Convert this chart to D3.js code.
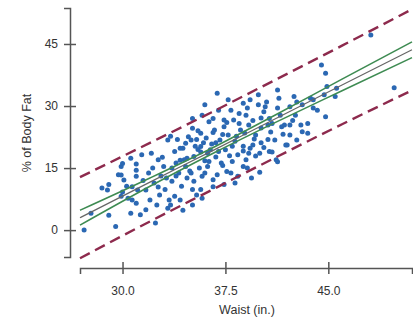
<!DOCTYPE html>
<html>
<head>
<meta charset="utf-8">
<script src="https://cdn.jsdelivr.net/npm/d3@7"></script>
<style>
  body { margin: 0; background: #fff; }
  svg { display: block; font-family: "Liberation Sans", Arial, sans-serif; }
</style>
</head>
<body>
<div id="chart"></div>
<script>
// waist (in.) and % body fat
const waist = [
  27.2, 27.7, 28.5, 29.0, 29.5, 29.7, 29.9, 30.6, 31.4, 32.1, 32.6, 33.0, 29.9, 30.4, 30.6, 31.0,
  31.3, 31.7, 31.9, 32.3, 32.5, 32.7, 33.1, 33.2, 33.6, 33.8, 34.1, 34.3, 34.6, 34.0, 33.5, 34.4,
  32.4, 30.3, 31.0, 28.9, 29.0, 30.0, 29.9, 30.1, 30.7, 31.1, 30.7, 31.0,
  35.4, 36.1, 36.8, 37.3, 38.3, 38.8, 39.2, 39.5, 40.0, 40.1, 40.7, 41.2, 41.9, 40.6, 35.6, 35.8,
  36.2, 35.2, 35.1, 35.7, 35.8, 35.1, 37.2, 37.6, 38.0, 37.9, 38.8, 39.1, 39.4, 38.4, 36.9, 36.6,
  37.4, 36.3, 35.2, 35.0,
  36.9, 37.7, 37.9, 37.4, 38.8, 39.1, 39.0, 39.2, 38.5, 39.9, 39.9, 40.3, 40.5, 41.3, 41.4, 41.3,
  40.7, 42.2, 42.5, 42.6, 41.8, 42.2, 36.3, 36.7, 35.1, 35.8,
  35.1, 35.7, 36.6, 37.4, 34.8, 34.2, 33.3, 35.7, 36.2,
  48.1, 44.5, 44.8, 44.9, 45.6, 44.7, 45.5, 43.9, 43.7, 43.9, 43.1, 44.8, 43.5, 43.0, 49.8, 42.7,
  41.6, 43.1, 42.0, 40.9,
  35.0, 35.3, 35.7, 34.7, 35.9, 38.8, 39.3, 39.7, 38.4, 36.4, 36.8, 37.5, 38.0, 37.1, 34.2, 33.6,
  32.8, 33.9, 34.7, 33.4, 32.0, 31.7, 34.2, 33.5, 34.4, 37.7, 38.6, 40.1, 40.8, 41.1, 39.7, 38.1,
  37.0, 36.0, 40.1, 39.3, 42.2, 42.7, 41.5, 40.6,
  34.5, 35.5, 36.0, 36.5, 37.0, 37.8, 38.2, 38.9, 39.6, 40.3, 40.9, 41.7, 42.4, 39.0, 37.3, 36.0,
  34.9, 33.9, 32.9, 33.8, 34.6, 35.5, 36.6, 37.6, 38.5, 39.5, 40.4, 32.2, 31.5, 32.6, 31.0, 30.0,
  33.3, 35.4, 36.6, 38.2, 40.0, 41.3, 43.5, 44.2
];
const bodyFat = [
  0.0, 4.1, 10.2, 11.0, 0.9, 13.4, 15.4, 17.4, 18.2, 18.6, 17.0, 15.4, 8.2, 7.7, 4.1, 6.5,
  3.7, 4.9, 13.8, 11.4, 6.1, 8.5, 9.8, 12.6, 11.8, 8.2, 13.8, 10.6, 15.4, 21.9, 22.7, 19.8,
  1.7, 10.6, 13.0, 9.7, 3.6, 16.1, 13.3, 12.1, 7.3, 9.7, 10.5, 14.5,
  21.9, 22.3, 21.1, 23.1, 22.7, 20.3, 18.6, 20.6, 18.6, 21.1, 19.0, 17.0, 20.6, 21.9, 15.0, 13.0,
  15.4, 11.8, 9.8, 9.8, 7.7, 6.1, 16.2, 14.2, 16.6, 13.8, 15.4, 15.0, 12.6, 13.0, 13.4, 12.2,
  11.0, 16.6, 17.8, 13.8,
  33.1, 31.5, 29.0, 26.6, 30.7, 29.5, 27.8, 25.4, 25.8, 32.7, 30.3, 28.6, 31.0, 33.9, 31.9, 29.5,
  27.0, 29.8, 32.3, 27.8, 25.4, 25.4, 26.2, 24.2, 24.6, 27.8,
  27.0, 23.4, 27.0, 25.0, 22.6, 19.8, 21.8, 20.2, 18.6,
  47.2, 39.9, 37.9, 34.7, 34.3, 32.7, 32.3, 31.5, 31.9, 29.5, 30.3, 27.4, 25.8, 25.4, 34.4, 31.0,
  25.0, 23.8, 20.6, 18.9,
  21.8, 20.3, 18.9, 17.4, 21.1, 19.1, 19.8, 17.9, 18.2, 19.4, 17.7, 19.4, 20.3, 21.8, 16.9, 15.0,
  13.1, 13.1, 12.6, 7.3, 7.3, 9.7, 7.3, 6.1, 4.8, 23.0, 24.2, 24.7, 23.7, 21.8, 23.0, 26.6,
  29.0, 30.3, 27.1, 31.5, 23.0, 21.8, 27.8, 25.4,
  17.0, 19.5, 16.8, 20.8, 19.0, 18.0, 21.5, 23.5, 22.0, 20.0, 25.8, 23.2, 26.5, 17.0, 15.6, 13.8,
  14.3, 16.2, 17.6, 19.0, 21.0, 24.0, 23.6, 26.0, 28.2, 26.5, 29.8, 15.0, 12.0, 10.4, 16.0, 9.2,
  5.3, 8.5, 10.5, 11.4, 14.0, 16.5, 23.4, 29.0
];

// fitted line with confidence and prediction bands
const bandX    = [26.9, 32, 36.5, 41, 46, 51.1];
const fitY     = [3.0, 11.6, 19.1, 26.7, 35.1, 43.6];
const ciUpper  = [4.8, 12.6, 19.8, 27.6, 36.5, 45.5];
const ciLower  = [1.2, 10.6, 18.4, 25.8, 33.7, 41.7];
const piUpper  = [12.8, 21.1, 28.5, 36.1, 44.6, 53.4];
const piLower  = [-6.8, 2.1, 9.7, 17.3, 25.6, 33.8];

const xTicks = [30, 37.5, 45];
const yTicks = [0, 15, 30, 45];

const width = 413, height = 321;

const svg = d3.select("#chart").append("svg")
    .attr("width", width)
    .attr("height", height);

const x = d3.scaleLinear().domain([26.9, 51.1]).range([80, 412]);
const y = d3.scaleLinear().domain([-6.5, 53.7]).range([257, 8]);

// y axis, ticks crossing the line
const yAxis = svg.append("g")
    .attr("transform", "translate(70,0)")
    .call(d3.axisLeft(y).tickValues(yTicks).tickSizeOuter(0).tickSize(6).tickPadding(6));
yAxis.selectAll(".tick line").attr("x1", 6).attr("x2", -6);

// x axis
const xAxis = svg.append("g")
    .attr("transform", "translate(0,268)")
    .call(d3.axisBottom(x).tickValues(xTicks).tickFormat(d3.format(".1f"))
        .tickSizeOuter(0).tickSize(6).tickPadding(12));
xAxis.selectAll(".tick line").attr("y1", -6).attr("y2", 6);

svg.selectAll(".domain, .tick line")
    .attr("stroke", "#555")
    .attr("stroke-width", 1.5);
svg.selectAll(".tick text")
    .attr("fill", "#333")
    .style("font-size", "12px");

// axis titles
svg.append("text")
    .attr("x", 247).attr("y", 314)
    .attr("text-anchor", "middle")
    .attr("fill", "#333")
    .style("font-size", "12.5px")
    .text("Waist (in.)");

svg.append("text")
    .attr("transform", "translate(31,133) rotate(-90)")
    .attr("text-anchor", "middle")
    .attr("fill", "#333")
    .style("font-size", "12.5px")
    .text("% of Body Fat");

// points
svg.append("g").selectAll("circle")
    .data(waist.map((w, i) => [w, bodyFat[i]]))
    .enter().append("circle")
    .attr("cx", (d) => x(d[0]))
    .attr("cy", (d) => y(d[1]))
    .attr("r", 2.5)
    .attr("fill", "#2b68b3");

const line = d3.line()
    .x((d) => x(d[0]))
    .y((d) => y(d[1]))
    .curve(d3.curveMonotoneX);

const band = (vals) => bandX.map((b, i) => [b, vals[i]]);

// prediction interval
[piUpper, piLower].forEach((vals) => {
    svg.append("path")
        .datum(band(vals))
        .attr("d", line)
        .attr("fill", "none")
        .attr("stroke", "#8d2a4d")
        .attr("stroke-width", 2.4)
        .attr("stroke-dasharray", "11 6");
});

// confidence interval
[ciUpper, ciLower].forEach((vals) => {
    svg.append("path")
        .datum(band(vals))
        .attr("d", line)
        .attr("fill", "none")
        .attr("stroke", "#3e8b52")
        .attr("stroke-width", 1.6);
});

// regression line
svg.append("path")
    .datum(band(fitY))
    .attr("d", line)
    .attr("fill", "none")
    .attr("stroke", "#666")
    .attr("stroke-width", 1.2);
</script>
</body>
</html>
